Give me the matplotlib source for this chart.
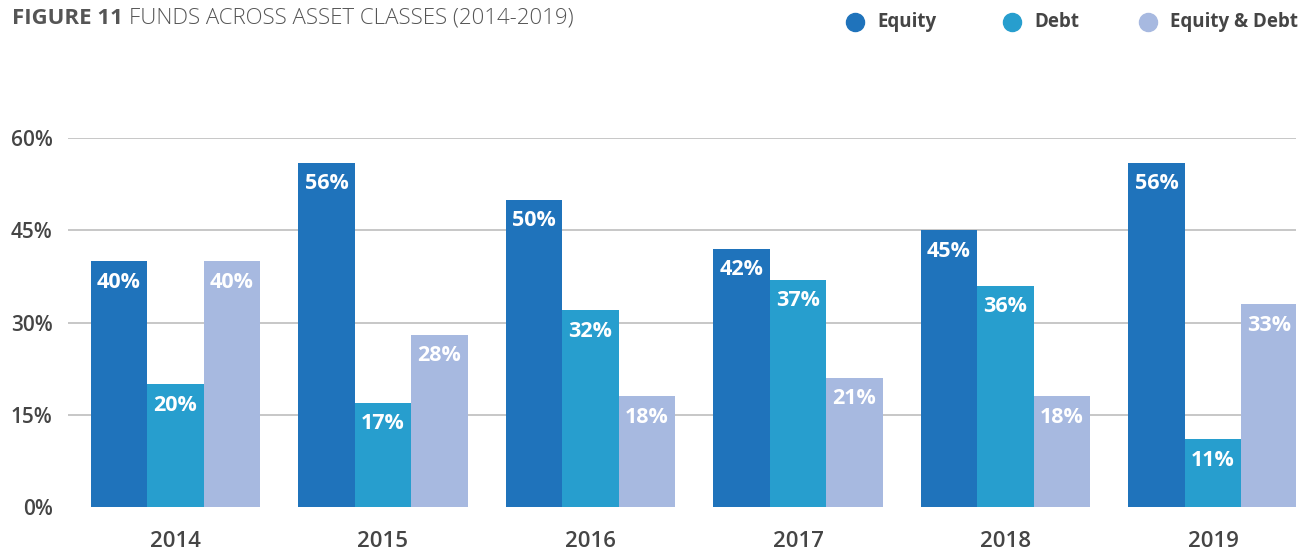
import numpy as np
import matplotlib
matplotlib.use('Agg')
import matplotlib.pyplot as plt
from matplotlib.lines import Line2D

plt.rcParams['font.family'] = ['Open Sans', 'DejaVu Sans']

# Dati
years = ['2014', '2015', '2016', '2017', '2018', '2019']
equity = [40, 56, 50, 42, 45, 56]
debt = [20, 17, 32, 37, 36, 11]
equity_debt = [40, 28, 18, 21, 18, 33]
series_names = ['Equity', 'Debt', 'Equity & Debt']
colors = ['#1f73bb', '#279ece', '#a7b9e0']
y_ticks = [0, 15, 30, 45, 60]

W, H = 1312, 553
fig = plt.figure(figsize=(W / 100, H / 100), dpi=100)
ax = fig.add_axes([68 / W, 1 - 507 / H, (1296 - 68) / W, (507 - 138.3) / H])

x = np.arange(len(years))
bw = 0.272
txt_dark = '#454545'

for i, (vals, col) in enumerate(zip([equity, debt, equity_debt], colors)):
    bars = ax.bar(x + (i - 1) * bw, vals, width=bw, color=col, zorder=2)
    for b, v in zip(bars, vals):
        ax.annotate(f'{v}%', (b.get_x() + b.get_width() / 2, v),
                    xytext=(0, -21), textcoords='offset pixels',
                    ha='center', va='center', color='white',
                    fontsize=15.5, fontweight='bold', zorder=3)

ax.set_xlim(-0.518, 5.40)
ax.set_ylim(0, 60)
ax.set_xticks(x)
ax.set_xticklabels(years)
ax.set_yticks(y_ticks)
ax.set_yticklabels([f'{t}%' for t in y_ticks])
ax.tick_params(axis='both', length=0, labelcolor=txt_dark)
ax.tick_params(axis='x', pad=17, labelsize=16)
ax.tick_params(axis='y', pad=11, labelsize=15)
for lab in ax.get_xticklabels() + ax.get_yticklabels():
    lab.set_fontweight('semibold')

ax.yaxis.grid(True, color='#bdbdbd', linewidth=1.2, zorder=0)
ax.set_axisbelow(True)
ax.yaxis.get_gridlines()[0].set_visible(False)
for s in ax.spines.values():
    s.set_visible(False)

# Titolo
t1 = fig.text(12 / W, 1 - 18 / H, 'FIGURE 11', fontsize=16, fontweight='bold',
              color='#555555', va='center', ha='left')
fig.canvas.draw()
bb = t1.get_window_extent()
fig.text((bb.x1 + 6) / W, 1 - 18 / H, 'FUNDS ACROSS ASSET CLASSES (2014-2019)',
         fontsize=16, fontweight='light', color='#555555', va='center', ha='left')

# Legenda (posizionata a mano in alto a destra)
leg_x = [855, 1012, 1148]
leg_y = 1 - 22 / H
for px, name, col in zip(leg_x, series_names, colors):
    fig.add_artist(Line2D([px / W], [leg_y], marker='o', markersize=13,
                          linestyle='', markerfacecolor=col, markeredgecolor=col,
                          transform=fig.transFigure))
    fig.text((px + 22) / W, leg_y, name, fontsize=13.5, fontweight='bold',
             color=txt_dark, va='center', ha='left')

fig.savefig('out.png', dpi=100)
